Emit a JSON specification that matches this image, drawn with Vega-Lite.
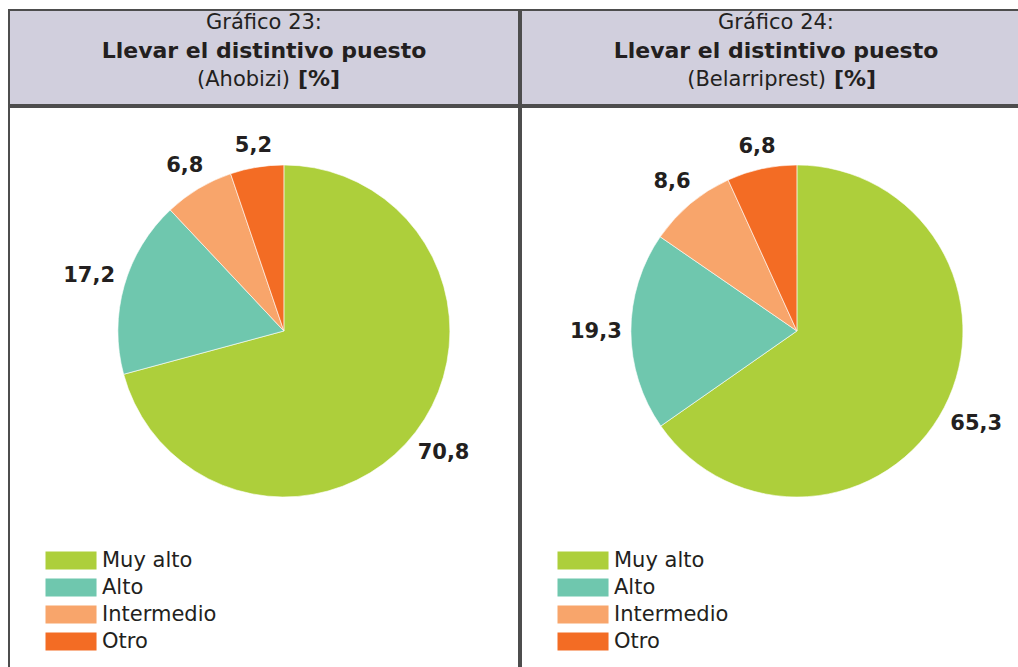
{
  "$schema": "https://vega.github.io/schema/vega-lite/v6.json",
  "padding": {"left": 8, "top": 9, "right": 0, "bottom": 0},
  "background": "white",
  "spacing": 0,
  "config": {
    "view": {"stroke": "#4d4d4d", "strokeWidth": 2},
    "font": "DejaVu Sans",
    "concat": {"spacing": 0}
  },
  "datasets": {
    "pies": [
      {"panel": "23", "cat": "Muy alto", "rank": 1, "value": 70.8, "label": "70,8"},
      {"panel": "23", "cat": "Alto", "rank": 2, "value": 17.2, "label": "17,2"},
      {"panel": "23", "cat": "Intermedio", "rank": 3, "value": 6.8, "label": "6,8"},
      {"panel": "23", "cat": "Otro", "rank": 4, "value": 5.2, "label": "5,2"},
      {"panel": "24", "cat": "Muy alto", "rank": 1, "value": 65.3, "label": "65,3"},
      {"panel": "24", "cat": "Alto", "rank": 2, "value": 19.3, "label": "19,3"},
      {"panel": "24", "cat": "Intermedio", "rank": 3, "value": 8.6, "label": "8,6"},
      {"panel": "24", "cat": "Otro", "rank": 4, "value": 6.8, "label": "6,8"}
    ],
    "heads": [
      {"panel": "23", "line": 1, "part": "n1", "text": "Gráfico 23:"},
      {"panel": "23", "line": 2, "part": "b2", "text": "Llevar el distintivo puesto"},
      {"panel": "23", "line": 3, "part": "n3", "text": "(Ahobizi)"},
      {"panel": "23", "line": 3, "part": "b3", "text": "[%]"},
      {"panel": "24", "line": 1, "part": "n1", "text": "Gráfico 24:"},
      {"panel": "24", "line": 2, "part": "b2", "text": "Llevar el distintivo puesto"},
      {"panel": "24", "line": 3, "part": "n3", "text": "(Belarriprest)"},
      {"panel": "24", "line": 3, "part": "b3", "text": "[%]"}
    ]
  },
  "hconcat": [
    {
      "spacing": 0,
      "vconcat": [
        {
          "width": 510,
          "height": 95,
          "view": {"fill": "#d1cfdd", "stroke": "#4d4d4d", "strokeWidth": 2},
          "data": {"name": "heads"},
          "transform": [{"filter": "datum.panel === '23'"}],
          "encoding": {
            "y": {"field": "line", "type": "ordinal", "scale": {"type": "point", "domain": [1, 2, 3], "padding": 0.667}, "axis": null},
            "text": {"field": "text"}
          },
          "layer": [
            {"transform": [{"filter": "datum.part === 'n1'"}], "mark": {"type": "text", "fontSize": 21, "color": "#231f20", "baseline": "alphabetic"}},
            {"transform": [{"filter": "datum.part === 'b2'"}], "mark": {"type": "text", "fontSize": 22, "fontWeight": "bold", "color": "#231f20", "baseline": "alphabetic"}},
            {"transform": [{"filter": "datum.part === 'n3'"}], "mark": {"type": "text", "fontSize": 21, "color": "#231f20", "baseline": "alphabetic", "align": "right", "dx": 26}},
            {"transform": [{"filter": "datum.part === 'b3'"}], "mark": {"type": "text", "fontSize": 22, "fontWeight": "bold", "color": "#231f20", "baseline": "alphabetic", "align": "left", "dx": 34}}
          ]
        },
        {
          "width": 510,
          "height": 600,
          "view": {"stroke": "#4d4d4d", "strokeWidth": 2},
          "data": {"name": "pies"},
          "transform": [{"filter": "datum.panel === '23'"}],
          "encoding": {
            "x": {"field": "panel", "type": "nominal", "scale": {"type": "point", "padding": 0, "align": 0.539}, "axis": null},
            "y": {"field": "panel", "type": "nominal", "scale": {"type": "point", "padding": 0, "align": 0.3733}, "axis": null},
            "theta": {"field": "value", "type": "quantitative", "stack": true},
            "order": {"field": "rank", "type": "quantitative"}
          },
          "layer": [
            {
              "mark": {"type": "arc", "outerRadius": 166, "stroke": "white", "strokeWidth": 0.6},
              "encoding": {
                "color": {
                  "field": "cat", "type": "nominal",
                  "scale": {"domain": ["Muy alto", "Alto", "Intermedio", "Otro"], "range": ["#adcf3b", "#6fc7ae", "#f8a56b", "#f36c24"]},
                  "legend": {
                    "title": null, "orient": "none", "legendX": 35, "legendY": 540,
                    "symbolType": "M-1,-1h5.67v2h-5.67z", "symbolSize": 324, "symbolStrokeWidth": 0,
                    "labelFontSize": 21, "labelColor": "#231f20", "labelFont": "DejaVu Sans",
                    "labelOffset": 37, "rowPadding": 5, "padding": 0
                  }
                }
              }
            },
            {
              "mark": {"type": "text", "fontSize": 21, "fontWeight": "bold", "color": "#231f20",
                "radius": {"expr": "175 + length(datum.label) * 6.5 * abs(sin(PI * (datum.value_start + datum.value_end) / 100)) + 9 * abs(cos(PI * (datum.value_start + datum.value_end) / 100))"}},
              "encoding": {"text": {"field": "label"}}
            }
          ]
        }
      ]
    },
    {
      "spacing": 0,
      "vconcat": [
        {
          "width": 510,
          "height": 95,
          "view": {"fill": "#d1cfdd", "stroke": "#4d4d4d", "strokeWidth": 2},
          "data": {"name": "heads"},
          "transform": [{"filter": "datum.panel === '24'"}],
          "encoding": {
            "y": {"field": "line", "type": "ordinal", "scale": {"type": "point", "domain": [1, 2, 3], "padding": 0.667}, "axis": null},
            "text": {"field": "text"}
          },
          "layer": [
            {"transform": [{"filter": "datum.part === 'n1'"}], "mark": {"type": "text", "fontSize": 21, "color": "#231f20", "baseline": "alphabetic"}},
            {"transform": [{"filter": "datum.part === 'b2'"}], "mark": {"type": "text", "fontSize": 22, "fontWeight": "bold", "color": "#231f20", "baseline": "alphabetic"}},
            {"transform": [{"filter": "datum.part === 'n3'"}], "mark": {"type": "text", "fontSize": 21, "color": "#231f20", "baseline": "alphabetic", "align": "right", "dx": 50}},
            {"transform": [{"filter": "datum.part === 'b3'"}], "mark": {"type": "text", "fontSize": 22, "fontWeight": "bold", "color": "#231f20", "baseline": "alphabetic", "align": "left", "dx": 58}}
          ]
        },
        {
          "width": 510,
          "height": 600,
          "view": {"stroke": "#4d4d4d", "strokeWidth": 2},
          "data": {"name": "pies"},
          "transform": [{"filter": "datum.panel === '24'"}],
          "encoding": {
            "x": {"field": "panel", "type": "nominal", "scale": {"type": "point", "padding": 0, "align": 0.541}, "axis": null},
            "y": {"field": "panel", "type": "nominal", "scale": {"type": "point", "padding": 0, "align": 0.3733}, "axis": null},
            "theta": {"field": "value", "type": "quantitative", "stack": true},
            "order": {"field": "rank", "type": "quantitative"}
          },
          "layer": [
            {
              "mark": {"type": "arc", "outerRadius": 166, "stroke": "white", "strokeWidth": 0.6},
              "encoding": {
                "color": {
                  "field": "cat", "type": "nominal",
                  "scale": {"domain": ["Muy alto", "Alto", "Intermedio", "Otro"], "range": ["#adcf3b", "#6fc7ae", "#f8a56b", "#f36c24"]},
                  "legend": {
                    "title": null, "orient": "none", "legendX": 35, "legendY": 540,
                    "symbolType": "M-1,-1h5.67v2h-5.67z", "symbolSize": 324, "symbolStrokeWidth": 0,
                    "labelFontSize": 21, "labelColor": "#231f20", "labelFont": "DejaVu Sans",
                    "labelOffset": 37, "rowPadding": 5, "padding": 0
                  }
                }
              }
            },
            {
              "mark": {"type": "text", "fontSize": 21, "fontWeight": "bold", "color": "#231f20",
                "radius": {"expr": "175 + length(datum.label) * 6.5 * abs(sin(PI * (datum.value_start + datum.value_end) / 100)) + 9 * abs(cos(PI * (datum.value_start + datum.value_end) / 100))"}},
              "encoding": {"text": {"field": "label"}}
            }
          ]
        }
      ]
    }
  ],
  "resolve": {"scale": {"color": "independent"}, "legend": {"color": "independent"}}
}
